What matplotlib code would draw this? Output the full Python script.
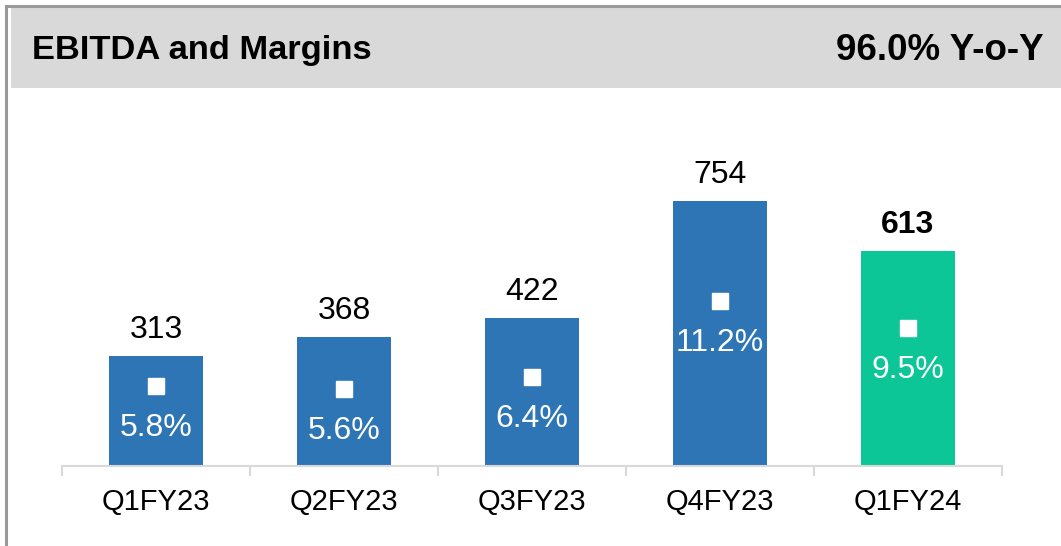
import matplotlib.pyplot as plt
from matplotlib.patches import Rectangle
from matplotlib.lines import Line2D

quarters = ['Q1FY23', 'Q2FY23', 'Q3FY23', 'Q4FY23', 'Q1FY24']
ebitda = [313, 368, 422, 754, 613]
margins = [5.8, 5.6, 6.4, 11.2, 9.5]
title = 'EBITDA and Margins'
growth = '96.0% Y-o-Y'

blue = '#2E75B6'
green = '#0CC698'
bar_colors = [blue, blue, blue, blue, green]

plt.rcParams['font.family'] = ['Liberation Sans', 'DejaVu Sans']

W, H = 1061, 546
fig = plt.figure(figsize=(W / 100, H / 100), dpi=100)


def px(x0, y0, x1, y1):
    # pixel box (top-left origin) -> figure fraction rect
    return [x0 / W, 1 - y1 / H, (x1 - x0) / W, (y1 - y0) / H]


# frame and header band
fig.add_artist(Line2D([5.5 / W, 5.5 / W], [0, 1 - 5.5 / H], color='#9A9A9A', lw=2.2,
                      transform=fig.transFigure))
fig.add_artist(Line2D([5.5 / W, 1], [1 - 5.5 / H, 1 - 5.5 / H], color='#9A9A9A', lw=2.2,
                      transform=fig.transFigure))
r = px(11, 7, W, 88)
fig.add_artist(Rectangle((r[0], r[1]), r[2], r[3], color='#D9D9D9', lw=0,
                         transform=fig.transFigure))
fig.text(32 / W, 1 - 51 / H, title, fontsize=24.8, fontweight='bold', va='center', ha='left')
fig.text(1044 / W, 1 - 51 / H, growth, fontsize=26.5, fontweight='bold', va='center', ha='right')

# main axes: baseline at y=466px, from x=62 to 1002
ax = fig.add_axes(px(62, 100, 1002, 466))
x = list(range(len(quarters)))
ax.bar(x, ebitda, width=0.5, color=bar_colors, zorder=2)
ax.set_xlim(-0.5, len(quarters) - 0.5)
ax.set_ylim(0, 1042)
for s in ['top', 'right', 'left']:
    ax.spines[s].set_visible(False)
ax.spines['bottom'].set_color('#D9D9D9')
ax.spines['bottom'].set_linewidth(1.5)
ax.set_yticks([])
ax.set_xticks(x)
ax.set_xticklabels(quarters, fontsize=21)
ax.set_xticks([i - 0.5 for i in range(len(quarters) + 1)], minor=True)
ax.tick_params(axis='x', which='major', length=0, pad=16)
ax.tick_params(axis='x', which='minor', length=7, width=1.5, color='#D9D9D9')

for i, v in enumerate(ebitda):
    ax.annotate(str(v), (i, v), xytext=(0, 13), textcoords='offset points',
                ha='center', va='baseline', fontsize=23,
                fontweight='bold' if i == len(ebitda) - 1 else 'normal')

# margins on secondary axis
ax2 = ax.twinx()
ax2.set_ylim(0.72, 23.97)
ax2.axis('off')
ax2.plot(x, margins, linestyle='none', marker='s', markersize=12,
         color='white', zorder=3)
for i, m in enumerate(margins):
    ax2.annotate(f'{m:.1f}%', (i, m), xytext=(0, -36), textcoords='offset points',
                 ha='center', va='baseline', fontsize=23, color='white')

fig.savefig('out.png', dpi=100)
